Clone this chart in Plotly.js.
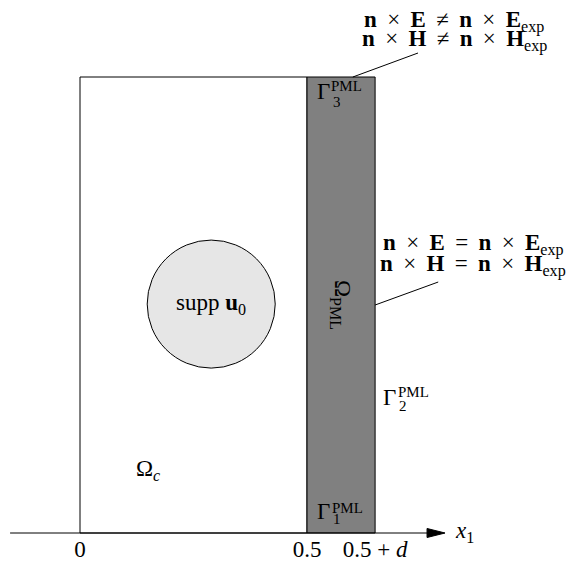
<!DOCTYPE html>
<html>
<head>
<meta charset="utf-8">
<script src="https://cdn.plot.ly/plotly-3.0.1.min.js"></script>
<style>html,body{margin:0;padding:0;background:#fff}#plot{width:572px;height:563px}</style>
</head>
<body>
<div id="plot"></div>
<script>
// Computational domain: physical region [0, 0.5] followed by a PML layer of width d
const tickVals = [0, 0.5, 0.65];
const tickText = ['0', '0.5', '0.5 + <i>d</i>'];
const physicalEnd = 0.5;
const pmlWidth = 0.15;
const domainHeight = 1.0;
const suppCenter = [0.289, 0.502];
const suppRadius = 0.141;
const axisStart = -0.154;
const axisEnd = 0.804;

const FONT = 'Liberation Serif, Times New Roman, serif';
const FS = 23;
const SMALL = 15;
const pmlEnd = physicalEnd + pmlWidth;
const SP = '\u2009 ';

const shapes = [
  // physical domain
  {type: 'rect', xref: 'x', yref: 'y', x0: 0, x1: physicalEnd, y0: 0, y1: domainHeight,
   line: {color: '#000', width: 1}, fillcolor: 'rgba(0,0,0,0)'},
  // PML layer
  {type: 'rect', xref: 'x', yref: 'y', x0: physicalEnd, x1: pmlEnd, y0: 0, y1: domainHeight,
   line: {color: '#000', width: 1}, fillcolor: '#808080'},
  // support of the initial data
  {type: 'circle', xref: 'x', yref: 'y',
   x0: suppCenter[0] - suppRadius, x1: suppCenter[0] + suppRadius,
   y0: suppCenter[1] - suppRadius * 454 / 456, y1: suppCenter[1] + suppRadius * 454 / 456,
   line: {color: '#000', width: 1}, fillcolor: '#e6e6e6'},
  // x1 axis
  {type: 'line', xref: 'x', yref: 'y', x0: axisStart, x1: axisEnd - 0.03, y0: 0, y1: 0,
   line: {color: '#000', width: 1}},
  {type: 'path', xref: 'x', yref: 'y',
   path: `M ${axisEnd - 0.0396} -0.0099 L ${axisEnd} 0 L ${axisEnd - 0.0396} 0.0099 Z`,
   line: {color: '#000', width: 1}, fillcolor: '#000'},
  // leader lines to the boundary conditions
  {type: 'line', xref: 'x', yref: 'y', x0: 0.7445, y0: 1.0526, x1: 0.601, y1: domainHeight,
   line: {color: '#000', width: 1}},
  {type: 'line', xref: 'x', yref: 'y', x0: 0.789, y0: 0.5504, x1: pmlEnd, y1: 0.5,
   line: {color: '#000', width: 1}}
];

function txt(x, y, text, opts) {
  return Object.assign({xref: 'x', yref: 'y', x: x, y: y, text: text, showarrow: false,
    font: {family: FONT, size: FS, color: '#000'}, xanchor: 'center', yanchor: 'middle'}, opts || {});
}
function small(x, y, text) {
  return txt(x, y, text, {xanchor: 'left', height: 11, font: {family: FONT, size: SMALL, color: '#000'}});
}
function cond(field, rel) {
  return `<b>n</b>${SP}×${SP}<b>${field}</b>${SP}${rel}${SP}<b>n</b>${SP}×${SP}<b>${field}</b><sub>exp</sub>`;
}

const annotations = [
  txt(0.8238, 1.121, cond('E', '≠')),
  txt(0.8238, 1.080, cond('H', '≠')),
  txt(0.8667, 0.632, cond('E', '=')),
  txt(0.8667, 0.586, cond('H', '=')),
  txt(0.575, 0.5, 'Ω<sub>PML</sub>', {textangle: 90}),
  txt(suppCenter[0], suppCenter[1], 'supp <b>u</b><sub>0</sub>'),
  txt(0.150, 0.138, 'Ω<sub><i>c</i></sub>'),
  txt(0.8216, 0.002, '<i>x</i><sub>1</sub>', {xanchor: 'left'}),
  // boundary pieces of the PML
  txt(0.5176, 0.9704, 'Γ', {xanchor: 'left', height: 18}),
  small(0.5485, 0.9803, 'PML'),
  small(0.5529, 0.9463, '3'),
  txt(0.663, 0.2993, 'Γ', {xanchor: 'left', height: 18}),
  small(0.696, 0.3114, 'PML'),
  small(0.6982, 0.2807, '2'),
  txt(0.5176, 0.0493, 'Γ', {xanchor: 'left', height: 18}),
  small(0.5507, 0.0570, 'PML'),
  small(0.5529, 0.0318, '1')
];

const layout = {
  width: 572, height: 563,
  margin: {l: 0, r: 0, t: 0, b: 0},
  paper_bgcolor: '#fff', plot_bgcolor: '#fff',
  showlegend: false,
  xaxis: {range: [-80 / 454, 492 / 454], anchor: 'free', position: 30 / 563,
    showgrid: false, zeroline: false, showline: false, ticks: '',
    tickvals: tickVals, ticktext: tickText,
    tickfont: {family: FONT, size: FS, color: '#000'}, fixedrange: true},
  yaxis: {range: [-30 / 456, 533 / 456], visible: false, fixedrange: true},
  shapes: shapes,
  annotations: annotations
};

Plotly.newPlot('plot', [], layout, {staticPlot: true, displayModeBar: false});
</script>
</body>
</html>
